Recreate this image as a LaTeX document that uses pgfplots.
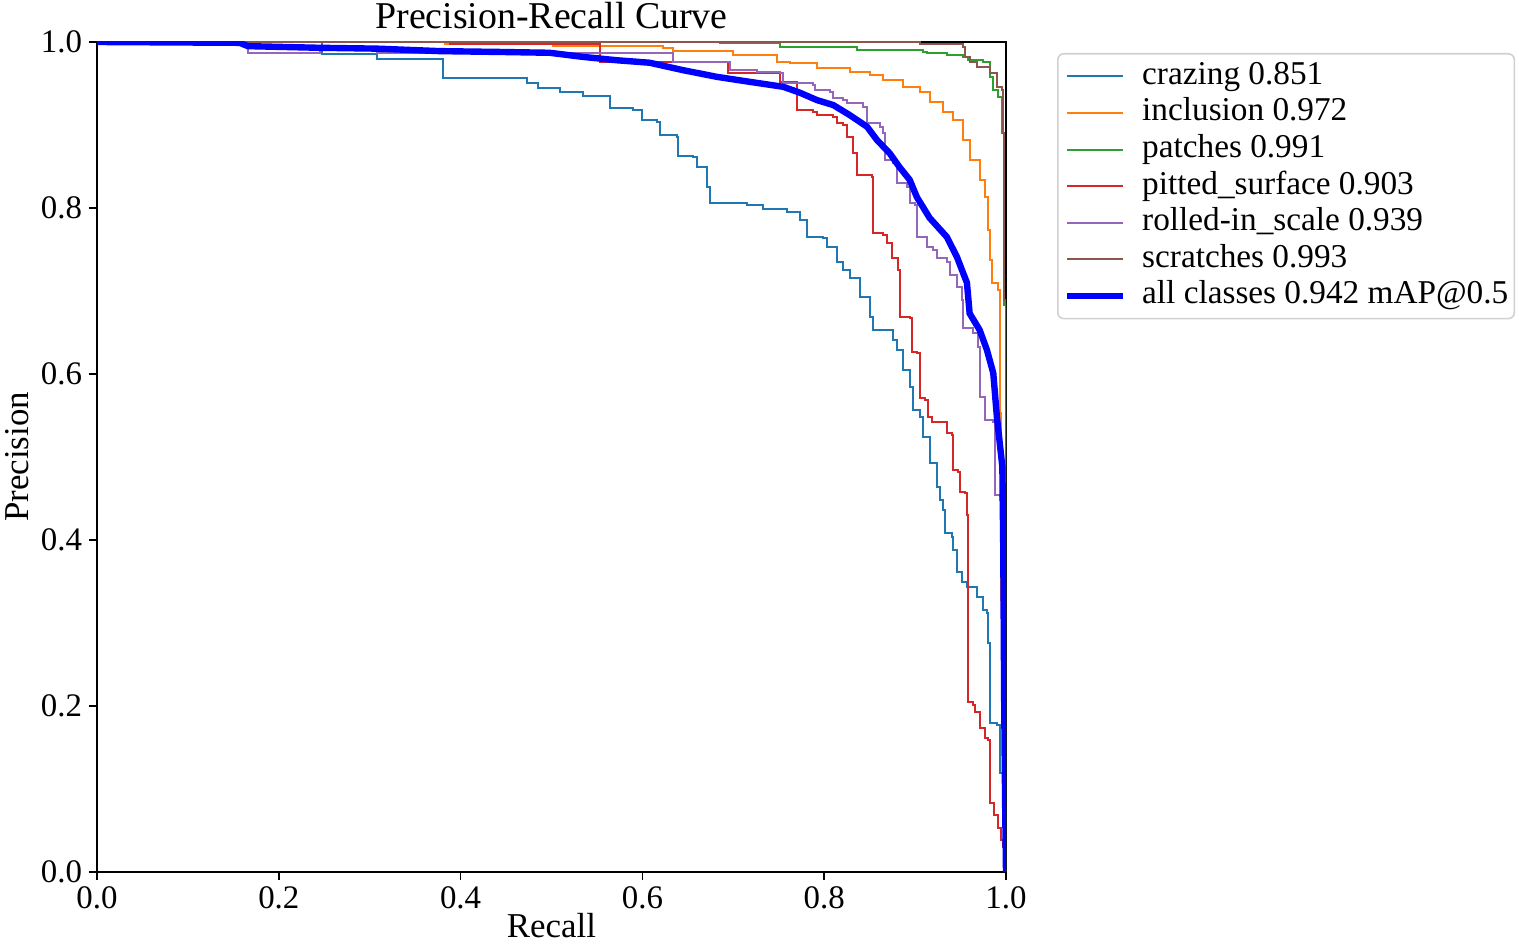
\documentclass[border=0pt]{standalone}
\usepackage{fontspec}
\setmainfont{Liberation Serif}
\usepackage{pgfplots}
\pgfplotsset{compat=1.18}
\definecolor{c0}{HTML}{1F77B4}
\definecolor{c1}{HTML}{FF7F0E}
\definecolor{c2}{HTML}{2CA02C}
\definecolor{c3}{HTML}{D62728}
\definecolor{c4}{HTML}{9467BD}
\definecolor{c5}{HTML}{8C564B}
\definecolor{call}{HTML}{0000FF}
\begin{document}
\begin{tikzpicture}
\useasboundingbox (-48.5bp,-36.5bp) rectangle (711bp,436bp);
\begin{axis}[
  at={(0,0)}, anchor=south west,
  scale only axis, width=454.5bp, height=415bp,
  xmin=0, xmax=1, ymin=0, ymax=1,
  xtick={0,0.2,0.4,0.6,0.8,1}, ytick={0,0.2,0.4,0.6,0.8,1},
  xtick pos=bottom, ytick pos=left, tick align=outside,
  major tick length=4bp,
  every tick/.style={black, line width=0.9pt},
  axis line style={line width=1.2pt},
  /pgf/number format/fixed, /pgf/number format/fixed zerofill,
  /pgf/number format/precision=1, /pgf/number format/assume math mode=true,
  tick label style={font=\fontsize{16.5}{19}\selectfont},
  title={Precision-Recall Curve},
  title style={font=\fontsize{19}{22}\selectfont, at={(axis description cs:0.5,1.018)}, anchor=center},
  xlabel={Recall},
  xlabel style={font=\fontsize{17.5}{20}\selectfont, at={(axis description cs:0.5,-0.064)}, anchor=center},
  ylabel={Precision},
  ylabel style={font=\fontsize{17.5}{20}\selectfont, at={(axis description cs:-0.088,0.5)}, anchor=center},
  legend cell align=left,
  legend image code/.code={\draw[#1] (0bp,0bp) -- (28bp,0bp);},
  legend style={at={(1,1)}, anchor=north west, xshift=25.5bp, yshift=-5.5bp,
    draw=black!18, line width=0.8pt, rounded corners=3bp,
    font=\fontsize{16.7}{19}\selectfont,
    inner xsep=3bp, inner ysep=3.3bp, row sep=2.3bp, column sep=8bp,
    nodes={inner sep=0pt, text height=12bp, text depth=4bp}},
]
% crazing
\addplot[const plot, c0, line width=1pt] coordinates {
(0,1.0)(0.248,0.986)(0.308,0.980)(0.381,0.957)(0.473,0.951)(0.485,0.945)(0.509,0.940)(0.535,0.935)
(0.564,0.920)(0.590,0.918)(0.600,0.906)(0.616,0.904)(0.619,0.888)(0.638,0.886)(0.639,0.863)(0.656,0.862)
(0.660,0.849)(0.671,0.825)(0.674,0.806)(0.715,0.804)(0.733,0.799)(0.759,0.795)(0.773,0.786)(0.781,0.765)
(0.799,0.764)(0.803,0.753)(0.814,0.735)(0.821,0.725)(0.828,0.716)(0.839,0.693)(0.850,0.669)(0.854,0.653)
(0.876,0.641)(0.880,0.629)(0.887,0.605)(0.894,0.584)(0.898,0.557)(0.905,0.548)(0.909,0.524)(0.916,0.493)
(0.924,0.464)(0.927,0.448)(0.931,0.436)(0.933,0.408)(0.941,0.404)(0.942,0.388)(0.946,0.361)(0.952,0.349)
(0.957,0.343)(0.968,0.331)(0.975,0.316)(0.979,0.312)(0.980,0.276)(0.982,0.180)(0.990,0.177)(0.993,0.119)
(0.997,0.117)(0.999,0.0)};
\addlegendentry{crazing 0.851}
% inclusion
\addplot[const plot, c1, line width=1pt] coordinates {
(0,1.0)(0.383,0.998)(0.502,0.995)(0.623,0.993)(0.634,0.989)(0.700,0.984)(0.748,0.976)(0.762,0.975)
(0.792,0.969)(0.828,0.964)(0.850,0.960)(0.865,0.954)(0.887,0.946)(0.905,0.940)(0.916,0.928)(0.931,0.916)
(0.942,0.906)(0.953,0.882)(0.960,0.858)(0.971,0.834)(0.977,0.813)(0.980,0.773)(0.982,0.737)(0.985,0.710)
(0.991,0.701)(0.993,0.553)(0.995,0.328)(0.996,0.183)(0.999,0.0)};
\addlegendentry{inclusion 0.972}
% patches
\addplot[const plot, c2, line width=1pt] coordinates {
(0,1.0)(0.685,0.999)(0.751,0.994)(0.836,0.990)(0.909,0.988)(0.913,0.987)(0.935,0.984)(0.953,0.982)
(0.958,0.978)(0.975,0.976)(0.982,0.958)(0.986,0.942)(0.991,0.934)(0.996,0.890)(0.998,0.683)(1.0,0.0)};
\addlegendentry{patches 0.991}
% pitted_surface
\addplot[const plot, c3, line width=1pt] coordinates {
(0,1.0)(0.388,0.998)(0.553,0.976)(0.694,0.963)(0.751,0.952)(0.770,0.918)(0.788,0.916)(0.792,0.912)
(0.810,0.910)(0.814,0.902)(0.821,0.900)(0.825,0.886)(0.832,0.866)(0.836,0.840)(0.853,0.837)(0.854,0.770)
(0.865,0.767)(0.869,0.758)(0.875,0.740)(0.881,0.725)(0.883,0.669)(0.894,0.667)(0.897,0.627)(0.902,0.625)
(0.905,0.571)(0.911,0.569)(0.914,0.548)(0.919,0.542)(0.935,0.529)(0.941,0.527)(0.942,0.484)(0.947,0.482)
(0.949,0.458)(0.955,0.457)(0.957,0.430)(0.958,0.205)(0.964,0.201)(0.966,0.193)(0.971,0.173)(0.977,0.161)
(0.980,0.159)(0.982,0.083)(0.987,0.069)(0.991,0.053)(0.995,0.039)(0.997,0.030)(0.999,0.0)};
\addlegendentry{pitted\_surface 0.903}
% rolled-in_scale
\addplot[const plot, c4, line width=1pt] coordinates {
(0,1.0)(0.166,0.987)(0.245,0.990)(0.308,0.987)(0.634,0.976)(0.696,0.966)(0.726,0.964)(0.751,0.963)
(0.755,0.951)(0.788,0.948)(0.790,0.942)(0.806,0.940)(0.810,0.933)(0.821,0.930)(0.825,0.927)(0.843,0.922)
(0.847,0.902)(0.861,0.898)(0.865,0.890)(0.867,0.858)(0.876,0.854)(0.880,0.830)(0.891,0.825)(0.894,0.806)
(0.900,0.804)(0.902,0.765)(0.913,0.753)(0.920,0.749)(0.924,0.740)(0.935,0.735)(0.938,0.719)(0.946,0.705)
(0.952,0.689)(0.953,0.655)(0.964,0.649)(0.969,0.633)(0.971,0.572)(0.977,0.545)(0.986,0.542)(0.988,0.454)
(0.993,0.448)(0.996,0.207)(0.999,0.0)};
\addlegendentry{rolled-in\_scale 0.939}
% scratches
\addplot[const plot, c5, line width=1pt] coordinates {
(0,1.0)(0.905,0.998)(0.953,0.994)(0.955,0.982)(0.960,0.976)(0.968,0.970)(0.982,0.963)(0.990,0.946)
(0.996,0.942)(0.997,0.890)(0.998,0.689)(1.0,0.0)};
\addlegendentry{scratches 0.993}
% all classes
\addplot[call, line width=3.2bp] coordinates {
(0,1.0)(0.157,0.999)(0.166,0.995)(0.245,0.993)(0.308,0.992)(0.377,0.989)(0.443,0.988)(0.498,0.987)
(0.535,0.982)(0.572,0.978)(0.608,0.975)(0.645,0.966)(0.682,0.958)(0.718,0.952)(0.755,0.946)(0.773,0.939)
(0.792,0.930)(0.810,0.924)(0.828,0.912)(0.847,0.898)(0.858,0.882)(0.872,0.866)(0.883,0.849)(0.894,0.834)
(0.902,0.813)(0.916,0.788)(0.935,0.765)(0.946,0.741)(0.957,0.710)(0.960,0.673)(0.971,0.653)(0.979,0.629)
(0.986,0.601)(0.990,0.548)(0.996,0.488)(0.997,0.388)(0.998,0.207)(0.999,0.087)(1.0,0.0)};
\addlegendentry{all classes 0.942 mAP@0.5}
\end{axis}
\end{tikzpicture}
\end{document}
